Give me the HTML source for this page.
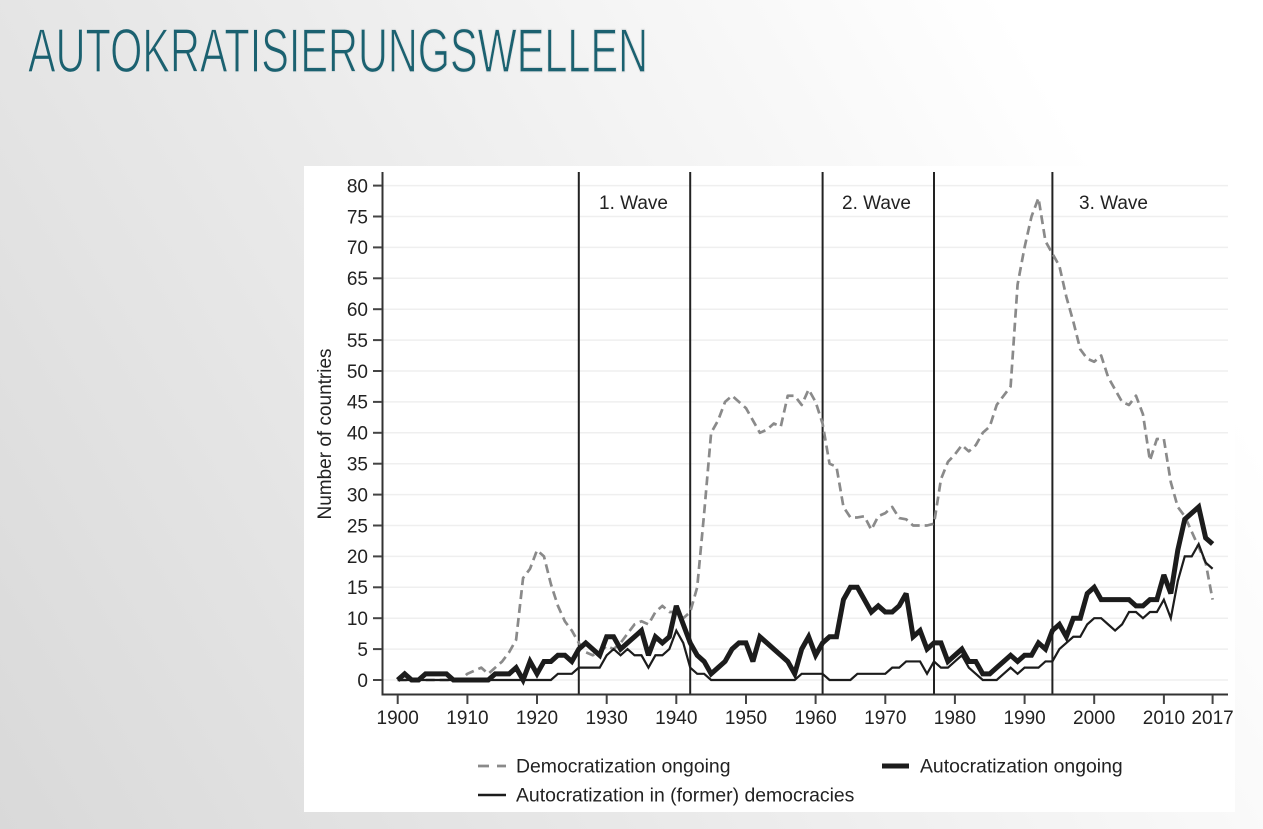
<!DOCTYPE html>
<html>
<head>
<meta charset="utf-8">
<style>
html,body{margin:0;padding:0;}
body{width:1263px;height:829px;overflow:hidden;background:linear-gradient(60deg,#d9d9d9 0%,#e8e8e8 35%,#f6f6f6 65%,#ffffff 85%,#ffffff 100%);font-family:"Liberation Sans",sans-serif;}
svg{position:absolute;left:0;top:0;}
</style>
</head>
<body>
<svg width="1263" height="829" viewBox="0 0 1263 829" xmlns="http://www.w3.org/2000/svg">
  <!-- Title -->
  <text x="28" y="72" font-family="Liberation Sans, sans-serif" font-size="62" fill="#1b6170" stroke="#e7e7e7" stroke-width="1.3" textLength="620" lengthAdjust="spacingAndGlyphs">AUTOKRATISIERUNGSWELLEN</text>

  <!-- chart box -->
  <rect x="304" y="166" width="931" height="646" fill="#ffffff"/>

  <!-- gridlines -->
  <g stroke="#efefef" stroke-width="1.5">
    <line x1="383" x2="1228" y1="680" y2="680"/>
    <line x1="383" x2="1228" y1="649.1" y2="649.1"/>
    <line x1="383" x2="1228" y1="618.2" y2="618.2"/>
    <line x1="383" x2="1228" y1="587.3" y2="587.3"/>
    <line x1="383" x2="1228" y1="556.4" y2="556.4"/>
    <line x1="383" x2="1228" y1="525.5" y2="525.5"/>
    <line x1="383" x2="1228" y1="494.6" y2="494.6"/>
    <line x1="383" x2="1228" y1="463.7" y2="463.7"/>
    <line x1="383" x2="1228" y1="432.8" y2="432.8"/>
    <line x1="383" x2="1228" y1="401.9" y2="401.9"/>
    <line x1="383" x2="1228" y1="371" y2="371"/>
    <line x1="383" x2="1228" y1="340.1" y2="340.1"/>
    <line x1="383" x2="1228" y1="309.2" y2="309.2"/>
    <line x1="383" x2="1228" y1="278.3" y2="278.3"/>
    <line x1="383" x2="1228" y1="247.4" y2="247.4"/>
    <line x1="383" x2="1228" y1="216.5" y2="216.5"/>
    <line x1="383" x2="1228" y1="185.6" y2="185.6"/>
  </g>

  <!-- wave lines -->
  <g stroke="#222" stroke-width="2">
    <line x1="578.8" x2="578.8" y1="172" y2="695"/>
    <line x1="690.2" x2="690.2" y1="172" y2="695"/>
    <line x1="822.6" x2="822.6" y1="172" y2="695"/>
    <line x1="934.0" x2="934.0" y1="172" y2="695"/>
    <line x1="1052.4" x2="1052.4" y1="172" y2="695"/>
  </g>
  <g font-family="Liberation Sans, sans-serif" font-size="19" fill="#222">
    <text x="599" y="209">1. Wave</text>
    <text x="842" y="209">2. Wave</text>
    <text x="1079" y="209">3. Wave</text>
  </g>

  <!-- data -->
  <g transform="translate(397.7 680) scale(6.965 -6.18)" fill="none">
    <polyline vector-effect="non-scaling-stroke" stroke="#8a8a8a" stroke-width="2.7" stroke-dasharray="9 5" stroke-linejoin="round"
      points="0,0 1,0 2,0 3,0 4,0 5,0 6,0 7,0 8,0 9,0 10,1 11,1.5 12,2 13,1 14,2 15,3 16,4.5 17,6.5 18,16.5 19,18 20,21 21,20 22,15.5 23,12 24,9.5 25,8 26,6 27,4.5 28,4 29,4.5 30,5.5 31,5 32,6 33,7.5 34,9 35,9.5 36,9 37,11 38,12 39,11 40,11 41,10 42,11 43,15 44,27 45,40 46,42 47,45 48,46 49,45 50,44 51,42 52,40 53,40.5 54,41.5 55,41 56,46 57,46 58,44.5 59,47 60,45 61,41.5 62,35 63,34.5 64,28 65,26.3 66,26.3 67,26.5 68,24.3 69,26.5 70,27 71,28 72,26.2 73,26 74,25 75,25 76,25 77,25.3 78,32.5 79,35.3 80,36.5 81,38 82,37 83,38 84,40 85,41 86,44.5 87,46 88,47.5 89,64 90,70 91,75 92,78 93,71 94,69 95,67 96,62 97,58 98,53.5 99,52 100,51.5 101,52.5 102,49 103,47 104,45 105,44.5 106,46 107,43 108,35.5 109,39 110,39 111,32 112,28 113,26.5 114,24 115,21.5 116,19 117,13"/>
    <polyline vector-effect="non-scaling-stroke" stroke="#1c1c1c" stroke-width="2.2" stroke-linejoin="miter"
      points="0,0 22,0 23,1 24,1 25,1 26,2 27,2 28,2 29,2 30,4 31,5 32,4 33,5 34,4 35,4 36,2 37,4 38,4 39,5 40,8 41,6 42,2 43,1 44,1 45,0 57,0 58,1 59,1 60,1 61,1 62,0 63,0 64,0 65,0 66,1 67,1 68,1 69,1 70,1 71,2 72,2 73,3 74,3 75,3 76,1 77,3 78,2 79,2 80,3 81,4 82,2 83,1 84,0 85,0 86,0 87,1 88,2 89,1 90,2 91,2 92,2 93,3 94,3 95,5 96,6 97,7 98,7 99,9 100,10 101,10 102,9 103,8 104,9 105,11 106,11 107,10 108,11 109,11 110,13 111,10 112,16 113,20 114,20 115,22 116,19 117,18"/>
    <polyline vector-effect="non-scaling-stroke" stroke="#1c1c1c" stroke-width="5" stroke-linejoin="miter" stroke-miterlimit="3"
      points="0,0 1,1 2,0 3,0 4,1 5,1 6,1 7,1 8,0 9,0 10,0 11,0 12,0 13,0 14,1 15,1 16,1 17,2 18,0 19,3 20,1 21,3 22,3 23,4 24,4 25,3 26,5 27,6 28,5 29,4 30,7 31,7 32,5 33,6 34,7 35,8 36,4 37,7 38,6 39,7 40,12 41,9 42,6 43,4 44,3 45,1 46,2 47,3 48,5 49,6 50,6 51,3 52,7 53,6 54,5 55,4 56,3 57,1 58,5 59,7 60,4 61,6 62,7 63,7 64,13 65,15 66,15 67,13 68,11 69,12 70,11 71,11 72,12 73,14 74,7 75,8 76,5 77,6 78,6 79,3 80,4 81,5 82,3 83,3 84,1 85,1 86,2 87,3 88,4 89,3 90,4 91,4 92,6 93,5 94,8 95,9 96,7 97,10 98,10 99,14 100,15 101,13 102,13 103,13 104,13 105,13 106,12 107,12 108,13 109,13 110,17 111,14 112,21 113,26 114,27 115,28 116,23 117,22"/>
  </g>

  <!-- axes -->
  <g stroke="#333" stroke-width="2" fill="none">
    <line x1="382.5" x2="382.5" y1="172" y2="695.5"/>
    <line x1="381.5" x2="1228" y1="694.5" y2="694.5"/>
  </g>
  <!-- y ticks -->
  <g stroke="#444" stroke-width="2">
    <line x1="373" x2="382" y1="680" y2="680"/>
    <line x1="373" x2="382" y1="649.1" y2="649.1"/>
    <line x1="373" x2="382" y1="618.2" y2="618.2"/>
    <line x1="373" x2="382" y1="587.3" y2="587.3"/>
    <line x1="373" x2="382" y1="556.4" y2="556.4"/>
    <line x1="373" x2="382" y1="525.5" y2="525.5"/>
    <line x1="373" x2="382" y1="494.6" y2="494.6"/>
    <line x1="373" x2="382" y1="463.7" y2="463.7"/>
    <line x1="373" x2="382" y1="432.8" y2="432.8"/>
    <line x1="373" x2="382" y1="401.9" y2="401.9"/>
    <line x1="373" x2="382" y1="371" y2="371"/>
    <line x1="373" x2="382" y1="340.1" y2="340.1"/>
    <line x1="373" x2="382" y1="309.2" y2="309.2"/>
    <line x1="373" x2="382" y1="278.3" y2="278.3"/>
    <line x1="373" x2="382" y1="247.4" y2="247.4"/>
    <line x1="373" x2="382" y1="216.5" y2="216.5"/>
    <line x1="373" x2="382" y1="185.6" y2="185.6"/>
  </g>
  <g font-family="Liberation Sans, sans-serif" font-size="19" fill="#222" text-anchor="end">
    <text x="368" y="686.8">0</text>
    <text x="368" y="655.9">5</text>
    <text x="368" y="625">10</text>
    <text x="368" y="594.1">15</text>
    <text x="368" y="563.2">20</text>
    <text x="368" y="532.3">25</text>
    <text x="368" y="501.4">30</text>
    <text x="368" y="470.5">35</text>
    <text x="368" y="439.6">40</text>
    <text x="368" y="408.7">45</text>
    <text x="368" y="377.8">50</text>
    <text x="368" y="346.9">55</text>
    <text x="368" y="316">60</text>
    <text x="368" y="285.1">65</text>
    <text x="368" y="254.2">70</text>
    <text x="368" y="223.3">75</text>
    <text x="368" y="192.4">80</text>
  </g>
  <text transform="translate(331 434) rotate(-90)" text-anchor="middle" font-family="Liberation Sans, sans-serif" font-size="19" fill="#222">Number of countries</text>

  <!-- x ticks -->
  <g stroke="#444" stroke-width="2">
    <line x1="397.7" x2="397.7" y1="695" y2="704"/>
    <line x1="467.4" x2="467.4" y1="695" y2="704"/>
    <line x1="537.0" x2="537.0" y1="695" y2="704"/>
    <line x1="606.7" x2="606.7" y1="695" y2="704"/>
    <line x1="676.3" x2="676.3" y1="695" y2="704"/>
    <line x1="746.0" x2="746.0" y1="695" y2="704"/>
    <line x1="815.6" x2="815.6" y1="695" y2="704"/>
    <line x1="885.3" x2="885.3" y1="695" y2="704"/>
    <line x1="954.9" x2="954.9" y1="695" y2="704"/>
    <line x1="1024.6" x2="1024.6" y1="695" y2="704"/>
    <line x1="1094.2" x2="1094.2" y1="695" y2="704"/>
    <line x1="1163.9" x2="1163.9" y1="695" y2="704"/>
    <line x1="1212.6" x2="1212.6" y1="695" y2="704"/>
  </g>
  <g font-family="Liberation Sans, sans-serif" font-size="19" fill="#222" text-anchor="middle">
    <text x="397.7" y="724">1900</text>
    <text x="467.4" y="724">1910</text>
    <text x="537.0" y="724">1920</text>
    <text x="606.7" y="724">1930</text>
    <text x="676.3" y="724">1940</text>
    <text x="746.0" y="724">1950</text>
    <text x="815.6" y="724">1960</text>
    <text x="885.3" y="724">1970</text>
    <text x="954.9" y="724">1980</text>
    <text x="1024.6" y="724">1990</text>
    <text x="1094.2" y="724">2000</text>
    <text x="1163.9" y="724">2010</text>
    <text x="1212.6" y="724">2017</text>
  </g>

  <!-- legend -->
  <line x1="478" x2="506" y1="766" y2="766" stroke="#8a8a8a" stroke-width="2.7" stroke-dasharray="11 8"/>
  <line x1="478" x2="506" y1="795" y2="795" stroke="#1c1c1c" stroke-width="2.5"/>
  <line x1="882" x2="909" y1="766" y2="766" stroke="#1c1c1c" stroke-width="5"/>
  <g font-family="Liberation Sans, sans-serif" font-size="19.4" fill="#222">
    <text x="516" y="772.5">Democratization ongoing</text>
    <text x="516" y="801.5">Autocratization in (former) democracies</text>
    <text x="920" y="772.5">Autocratization ongoing</text>
  </g>
</svg>
</body>
</html>
